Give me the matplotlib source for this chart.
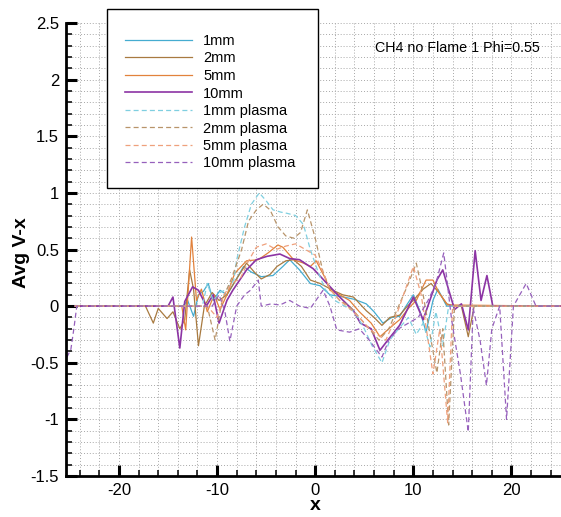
import matplotlib
matplotlib.use("Agg")
import matplotlib.pyplot as plt
from matplotlib.patches import Rectangle
from matplotlib.ticker import MultipleLocator, FormatStrFormatter

plt.rcParams['font.family'] = ['Liberation Sans', 'DejaVu Sans']

# 1mm
x_1mm = [-24.5, -13.5, -13.0, -12.4, -11.9, -11.4, -10.9, -10.4, -9.7, -9.0, -8.3, -7.3, -6.5,
         -5.5, -4.3, -3.3, -2.6, -1.6, -0.5, 0.5, 1.5, 2.9, 4.0, 5.2, 6.0, 6.9, 7.8, 8.6, 9.4,
         10.0, 10.7, 11.3, 12.0, 12.5, 13.4, 25]
y_1mm = [0, 0, 0.05, -0.09, 0.10, 0.13, 0.20, 0.05, 0.14, 0.10, 0.20, 0.35, 0.30,
         0.26, 0.27, 0.35, 0.41, 0.32, 0.20, 0.18, 0.10, 0.08, 0.06, 0.02, -0.05, -0.15, -0.10, -0.09, 0.02,
         0.10, -0.05, -0.23, 0.05, 0.15, 0.0, 0]

# 2mm
x_2mm = [-24.5, -17.3, -16.5, -16.0, -15.1, -14.5, -13.8, -13.3, -12.8, -12.4, -11.9, -11.3, -10.5,
         -9.8, -9.0, -8.3, -7.0, -6.2, -5.5, -4.6, -3.9, -3.0, -2.2, -1.4, -0.5, 0.5, 1.8, 2.8,
         3.9, 5.2, 6.0, 6.8, 7.6, 8.6, 9.4, 10.2, 11.0, 11.8, 12.6, 13.4, 14.2, 14.9, 15.6, 16.2, 25]
y_2mm = [0, 0, -0.15, -0.02, -0.11, -0.05, -0.20, -0.12, 0.32, 0.15, -0.35, 0.0, 0.12,
         0.05, 0.10, 0.20, 0.38, 0.30, 0.24, 0.28, 0.35, 0.40, 0.41, 0.35, 0.23, 0.20, 0.14, 0.10,
         0.08, -0.04, -0.10, -0.17, -0.10, -0.08, 0.0, 0.07, 0.15, 0.20, 0.12, 0.02, 0.0, 0.0, -0.27, 0.0, 0]

# 5mm
x_5mm = [-24.5, -13.6, -13.2, -12.6, -12.1, -11.6, -11.0, -10.3, -9.7, -9.0, -8.2, -7.0, -5.8,
         -4.8, -3.8, -3.3, -2.2, -1.2, -0.5, 0.1, 1.0, 1.5, 2.5, 3.5, 4.5, 5.7, 6.6, 7.5, 8.6,
         9.5, 10.3, 11.3, 12.0, 12.6, 13.5, 25]
y_5mm = [0, 0, -0.21, 0.61, 0.05, 0.15, -0.05, 0.10, -0.03, 0.10, 0.29, 0.40, 0.41,
         0.47, 0.54, 0.52, 0.41, 0.38, 0.35, 0.40, 0.25, 0.14, 0.10, 0.05, -0.05, -0.15, -0.27, -0.20, -0.12,
         -0.02, 0.05, 0.23, 0.23, 0.12, 0.01, 0]

# 10mm
x_10mm = [-24.5, -15.0, -14.5, -13.8, -13.3, -12.5, -11.9, -11.1, -10.4, -9.8, -9.0, -8.4, -7.0,
          -6.0, -4.9, -3.6, -2.6, -1.6, -0.2, 1.2, 2.5, 3.9, 4.6, 5.7, 6.6, 7.4, 8.6, 10.0,
          11.0, 12.4, 13.0, 14.2, 14.9, 15.6, 16.3, 16.9, 17.5, 18.1, 25]
y_10mm = [0, 0, 0.08, -0.37, 0.04, 0.17, 0.14, 0.0, 0.10, -0.15, 0.05, 0.14, 0.32,
          0.41, 0.44, 0.46, 0.42, 0.41, 0.33, 0.20, 0.08, -0.04, -0.15, -0.20, -0.39, -0.30, -0.17, 0.08,
          -0.12, 0.23, 0.32, -0.03, 0.02, -0.21, 0.49, 0.05, 0.27, 0.0, 0]

# 1mm plasma
x_1mm_p = [-24.5, -11.5, -11.0, -10.4, -9.7, -9.0, -8.3, -8.0, -7.2, -6.5, -5.7, -5.0, -4.3,
           -3.5, -2.9, -2.0, -1.2, -0.5, 0.3, 1.0, 2.0, 3.0, 4.0, 5.0, 5.8, 6.8, 7.6, 8.5,
           9.5, 10.3, 11.0, 11.7, 12.3, 13.0, 13.6, 14.2, 25]
y_1mm_p = [0, 0, 0.20, 0.05, 0.12, 0.15, 0.23, 0.41, 0.70, 0.90, 1.00, 0.93, 0.85,
           0.83, 0.82, 0.80, 0.72, 0.50, 0.30, 0.15, 0.05, 0.0, -0.05, -0.20, -0.35, -0.50, -0.30, -0.20,
           -0.10, -0.25, -0.15, -0.36, -0.05, -0.35, 0.0, 0.0, 0]

# 2mm plasma
x_2mm_p = [-24.5, -11.0, -10.2, -9.5, -8.5, -7.5, -6.8, -6.0, -5.3, -4.6, -3.8, -3.0, -2.2,
           -1.5, -0.8, 0.0, 0.8, 1.5, 2.5, 3.5, 4.5, 5.5, 6.5, 7.5, 8.5, 9.5, 10.3, 11.0,
           11.6, 12.4, 13.0, 13.6, 14.2, 25]
y_2mm_p = [0, 0, -0.30, 0.05, 0.25, 0.50, 0.75, 0.85, 0.90, 0.85, 0.70, 0.62, 0.60,
           0.65, 0.85, 0.60, 0.30, 0.15, 0.05, 0.0, -0.10, -0.20, -0.30, -0.20, 0.0, 0.20, 0.38, 0.10,
           -0.20, -0.59, -0.20, -1.05, 0.0, 0]

# 5mm plasma
x_5mm_p = [-24.5, -11.0, -10.0, -9.3, -8.5, -7.6, -6.8, -6.0, -5.0, -4.0, -3.0, -2.0, -1.0,
           0.0, 0.8, 1.5, 2.5, 3.5, 4.5, 5.5, 6.3, 7.2, 8.2, 9.2, 10.0, 10.8, 11.5, 12.0,
           12.7, 13.5, 14.0, 25]
y_5mm_p = [0, 0, -0.10, 0.10, 0.20, 0.25, 0.40, 0.52, 0.55, 0.50, 0.53, 0.55, 0.50,
           0.45, 0.30, 0.15, 0.05, -0.02, -0.10, -0.20, -0.25, -0.30, -0.10, 0.15, 0.35, 0.10, -0.30, -0.60,
           -0.20, -1.03, 0.0, 0]

# 10mm plasma
x_10mm_p = [-25.3, -24.9, -24.6, -24.3, -10.5, -9.8, -9.2, -8.7, -8.0, -7.2, -6.6, -5.8, -5.5,
            -4.5, -3.6, -2.6, -1.6, -0.5, 0.8, 1.5, 2.2, 3.5, 4.5, 5.5, 6.8, 7.5, 8.5, 9.5,
            10.5, 11.5, 12.3, 13.1, 13.9, 14.8, 15.6, 16.1, 16.8, 17.45, 18.0, 18.8, 19.5, 20.2,
            21.5, 22.0, 22.5, 25]
y_10mm_p = [-0.45, -0.38, -0.20, 0.0, 0.0, 0.10, -0.05, -0.31, 0.0, 0.10, 0.14, 0.23, 0.0,
            0.02, 0.01, 0.05, 0.0, -0.02, 0.14, 0.0, -0.21, -0.23, -0.20, -0.30, -0.45, -0.30, -0.20, -0.15,
            -0.10, 0.05, 0.20, 0.47, -0.12, -0.60, -1.11, -0.02, -0.30, -0.70, -0.20, 0.0, -1.00, 0.0,
            0.20, 0.10, 0.0, 0]

labels = ["1mm", "2mm", "5mm", "10mm",
          "1mm plasma", "2mm plasma", "5mm plasma", "10mm plasma"]
series = [(x_1mm, y_1mm), (x_2mm, y_2mm), (x_5mm, y_5mm), (x_10mm, y_10mm),
          (x_1mm_p, y_1mm_p), (x_2mm_p, y_2mm_p), (x_5mm_p, y_5mm_p), (x_10mm_p, y_10mm_p)]
colors = ["#45acd0", "#a87a40", "#e2823c", "#8c34a4",
          "#7fcfe0", "#b8946a", "#efa07c", "#9660bc"]
widths = [0.9, 0.9, 0.9, 1.2, 0.9, 0.9, 0.9, 0.9]

W, H = 561, 517
fig = plt.figure(figsize=(W / 100, H / 100), dpi=100)
ax = fig.add_axes([66 / W, (H - 476) / H, (W - 66) / W, (476 - 23) / H])

handles = []
for i, (xs, ys) in enumerate(series):
    ls = '-' if i < 4 else (0, (4, 2.5))
    h, = ax.plot(xs, ys, color=colors[i], lw=widths[i], ls=ls, label=labels[i])
    handles.append(h)

ax.set_xlim(-25.4, 25.05)
ax.set_ylim(-1.5, 2.5)
ax.xaxis.set_major_locator(MultipleLocator(10))
ax.xaxis.set_minor_locator(MultipleLocator(2))
ax.yaxis.set_major_locator(MultipleLocator(0.5))
ax.yaxis.set_minor_locator(MultipleLocator(0.1))
ax.yaxis.set_major_formatter(FormatStrFormatter('%g'))
ax.xaxis.set_major_formatter(FormatStrFormatter('%g'))

ax.grid(True, which='both', color='#a8a8a8', ls=(0, (1, 2)), lw=0.7)
ax.set_axisbelow(True)

for s in ['top', 'right']:
    ax.spines[s].set_visible(False)
for s in ['left', 'bottom']:
    ax.spines[s].set_linewidth(2.0)

ax.tick_params(which='major', direction='in', length=8, width=2.2, labelsize=12, pad=5)
ax.tick_params(which='minor', direction='in', length=4.5, width=1.1)

fig.text(22 / W, 1 - 253 / H, "Avg V-x", rotation=90, fontsize=14, fontweight='bold',
         ha='center', va='center')
fig.text(315 / W, 1 - 506 / H, "x", fontsize=14, fontweight='bold', ha='center', va='center')
fig.text(375 / W, 1 - 48 / H, "CH4 no Flame 1 Phi=0.55", fontsize=10.3, ha='left', va='center')

# legend box
box = Rectangle((107 / W, 1 - 188 / H), (318 - 107) / W, (188 - 9) / H,
                transform=fig.transFigure, facecolor='white', edgecolor='black', lw=1.0, zorder=5)
fig.patches.append(box)
fig.legend(handles=handles, loc='upper left', bbox_to_anchor=(125 / W, 1 - 34 / H),
           frameon=False, fontsize=10.5, borderpad=0, borderaxespad=0,
           handlelength=4.6, handletextpad=0.75, labelspacing=0.24)

fig.savefig("out.png", dpi=100)
